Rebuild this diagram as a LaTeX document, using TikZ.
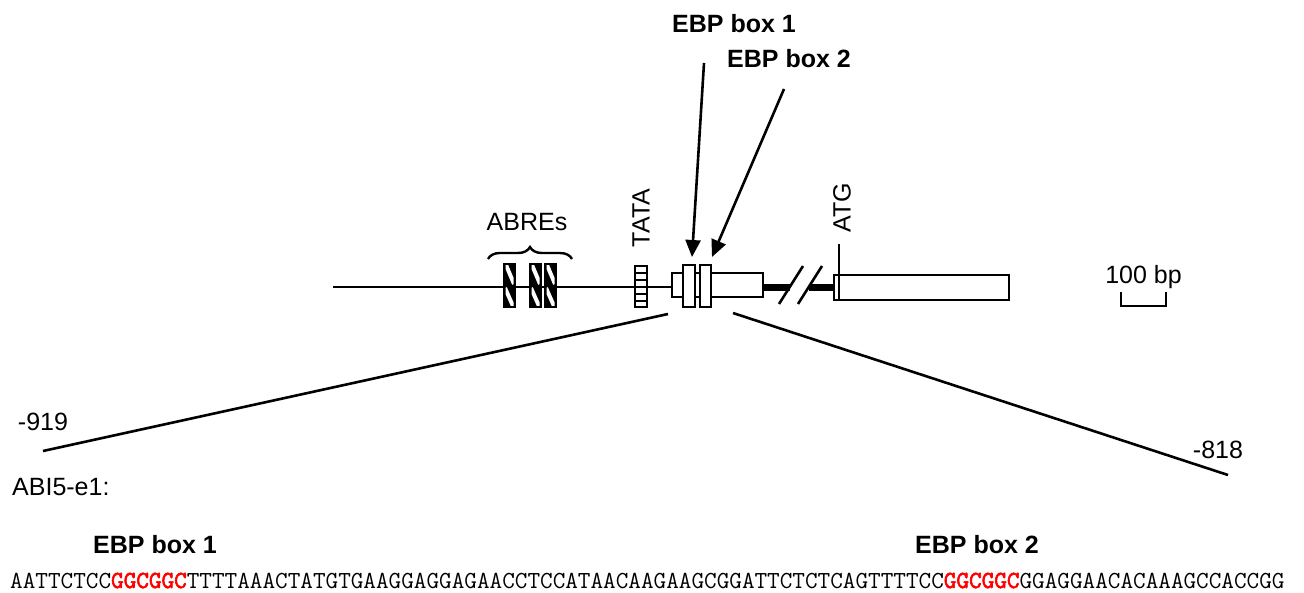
\documentclass[tikz,border=0pt]{standalone}
\usepackage{fontspec}
\setmainfont{Liberation Sans}
\newfontfamily\seqbold[FakeBold=2.5]{Latin Modern Mono}
\usetikzlibrary{arrows.meta,decorations.pathreplacing}
\begin{document}
\begin{tikzpicture}[x=1pt,y=-1pt,
 lbl/.style={font=\fontsize{25}{30}\selectfont, inner sep=0pt},
 bold/.style={font=\fontsize{25}{30}\selectfont\bfseries, inner sep=0pt},
 gline/.style={line width=2.6pt},
 boxst/.style={draw, line width=2.6pt, fill=white},
 arr/.style={line width=2.6pt, -{Triangle[width=15pt,length=17pt]}}]
\useasboundingbox[fill=white] (0,0) rectangle (1304,592);
% main line
\draw[gline] (333,287) -- (671,287);
% ABRE boxes
\foreach \x in {503,529,544}{
  \fill[black] (\x,263) rectangle ++(13,45);
  \begin{scope}
    \clip (\x+2.5,265.5) rectangle ++(8,40);
    \draw[white,line width=4pt] (\x+3,265) -- (\x+11,284);
    \draw[white,line width=4pt] (\x+2,288) -- (\x+10,306);
  \end{scope}
}
% TATA box
\draw[boxst] (635,266) rectangle (647,307);
\foreach \y in {273,280,287,294,301}{\draw[line width=1.6pt] (635,\y) -- (647,\y);}
% promoter region
\draw[boxst] (672,273) rectangle (763,297);
\draw[boxst] (683,265) rectangle (695,307);
\draw[boxst] (700,265) rectangle (711,307);
% thick line with break
\draw[line width=7pt] (763,287) -- (790,287);
\draw[line width=7pt] (809,287) -- (834,287);
\draw[gline] (779,304) -- (803,266);
\draw[gline] (798,304) -- (822,266);
% coding box
\draw[boxst] (834,275) rectangle (1009,300);
\coordinate (atgtop) at (839,244);
\coordinate (atgbot) at (839,300);
\draw[gline] (atgtop) -- (atgbot);
% labels
\node[lbl,rotate=90] (tata) at (641,218) {TATA};
\node[lbl,rotate=90] (atg) at (842,208) {ATG};
\node[lbl] (abres) at (527,222) {ABREs};
\coordinate (brl) at (488,259);
\coordinate (brr) at (572,259);
\draw[line width=2.4pt, decorate, decoration={brace, amplitude=12pt}] (brl) -- (brr);
% EBP arrows
\node[bold] (e1) at (734,24) {EBP box 1};
\node[bold] (e2) at (789,59) {EBP box 2};
\coordinate (e1a) at (704,63);
\coordinate (e1b) at (692,257);
\coordinate (e2a) at (784,89);
\coordinate (e2b) at (712,257);
\draw[arr] (e1a) -- (e1b);
\draw[arr] (e2a) -- (e2b);
% scale bar
\node[lbl,anchor=base] (bp) at (1143.5,283) {100 bp};
\coordinate (s1) at (1121,292);
\coordinate (s2) at (1166,292);
\draw[gline] (s1) -- ++(0,14) -| (s2);
% zoom lines
\coordinate (zl1) at (668,314);
\coordinate (zl2) at (43,451);
\coordinate (zr1) at (733,313);
\coordinate (zr2) at (1228,475);
\draw[gline] (zl1) -- (zl2);
\draw[gline] (zr1) -- (zr2);
\node[lbl] (m919) at (43,422) {-919};
\node[lbl] (m818) at (1218,450) {-818};
\node[lbl,anchor=west] (abi) at (12,487) {ABI5-e1:};
\node[bold] (b1) at (155,545) {EBP box 1};
\node[bold] (b2) at (977,545) {EBP box 2};
\node[anchor=base west, inner sep=0pt, font=\ttfamily\fontsize{24.5}{28}\selectfont] (seq) at (10,588)
 {AATTCTCC{\seqbold\color{red}GGCGGC}TTTTAAACTATGTGAAGGAGGAGAACCTCCATAACAAGAAGCGGATTCTCTCAGTTTTCC{\seqbold\color{red}GGCGGC}GGAGGAACACAAAGCCACCGG};
\end{tikzpicture}
\end{document}
